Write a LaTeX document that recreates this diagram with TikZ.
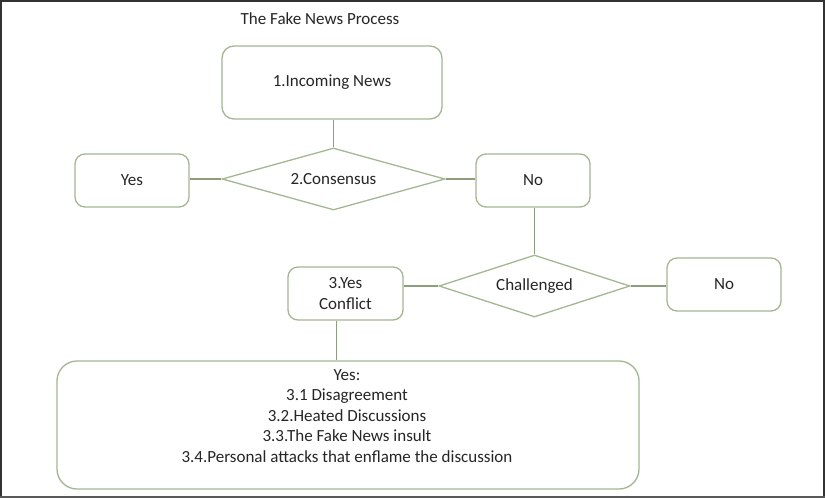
\documentclass[tikz,border=0pt]{standalone}
\usepackage{fontspec}
\setmainfont{Carlito}
\usetikzlibrary{shapes.geometric}
\definecolor{boxc}{RGB}{163,184,145}
\definecolor{linec}{RGB}{140,158,124}
\definecolor{txt}{RGB}{38,38,38}
\definecolor{frame}{RGB}{50,50,50}
\tikzset{
  every node/.style={text=txt, font=\fontsize{17}{20.5}\selectfont},
  rbox/.style={draw=boxc, line width=1.3pt, rounded corners=10pt, inner sep=0pt, align=center},
  dia/.style={draw=boxc, line width=1.3pt, shape=diamond, inner sep=0pt, aspect=3.5},
  conn/.style={draw=linec, line width=1.3pt}
}
\begin{document}
\begin{tikzpicture}[x=1pt,y=-1pt]
\useasboundingbox (0,0) rectangle (825,498);
\fill[white] (0,0) rectangle (825,498);
\draw[frame, line width=2pt] (1,497) -- (1,1) -- (823.5,1) -- (823.5,497);
\draw[gray!70!black, line width=2.5pt] (0,496.8) -- (825,496.8);

\node (title) at (320,19) {The Fake News Process};
\node[rbox, minimum width=220pt, minimum height=73pt, rounded corners=12pt] (incoming) at (332,82.5) {1.Incoming News};
\node[dia, minimum width=223pt, minimum height=62pt] (cons) at (333.5,179) {2.Consensus};
\node[rbox, minimum width=114pt, minimum height=53pt] (yes1) at (132,180.5) {Yes};
\node[rbox, minimum width=114pt, minimum height=53pt] (no1) at (533,180.5) {No};
\node[dia, minimum width=191pt, minimum height=62pt, aspect=3.1] (chal) at (534.5,286) {Challenged};
\node[rbox, minimum width=115pt, minimum height=53pt] (conf) at (345.5,293.5) {3.Yes\\Conflict};
\node[rbox, minimum width=114pt, minimum height=53pt] (no2) at (724,284.5) {No};
\node[rbox, minimum width=582pt, minimum height=128pt, rounded corners=20pt] (big) at (348,425) {};
\node[align=center, inner sep=0pt] (bigtext) at (347,416) {Yes:\\3.1 Disagreement\\3.2.Heated Discussions\\3.3.The Fake News insult\\3.4.Personal attacks that enflame the discussion};

\draw[conn] (incoming.south -| cons.north) -- (cons.north);
\draw[conn] (yes1.east |- cons.west) -- (cons.west);
\draw[conn] (cons.east) -- (no1.west |- cons.east);
\draw[conn] (no1.south -| chal.north) -- (chal.north);
\draw[conn] (conf.east |- chal.west) -- (chal.west);
\draw[conn] (chal.east) -- (no2.west |- chal.east);
\draw[conn] ([xshift=-9pt]conf.south) -- ([xshift=-9pt]conf.south |- big.north);
\end{tikzpicture}
\end{document}
